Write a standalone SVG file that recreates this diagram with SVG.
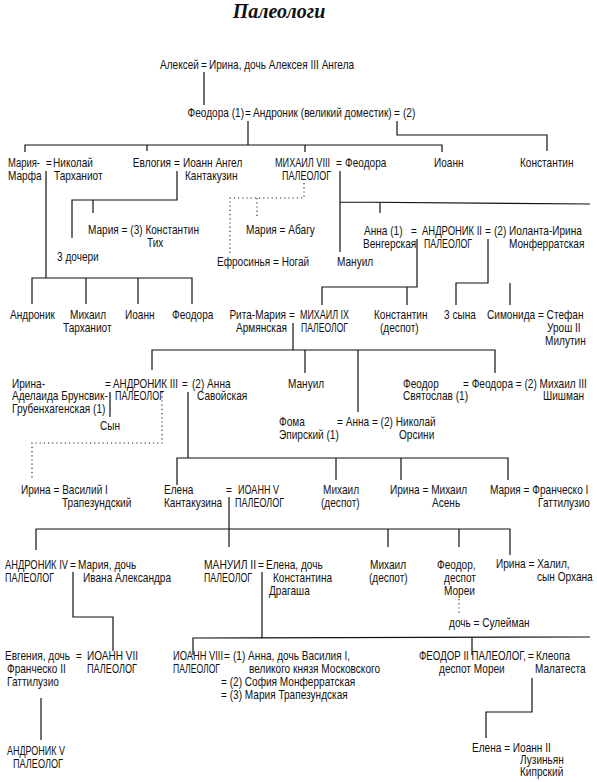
<svg xmlns="http://www.w3.org/2000/svg" width="597" height="782" viewBox="0 0 597 782">
<style>
text{font-family:"Liberation Sans",Arial,sans-serif;font-size:12px;fill:#111}
.e{text-anchor:middle}
.r{text-anchor:end}
.title{font-family:"Liberation Serif","Times New Roman",serif;font-size:20px;font-weight:bold;font-style:italic;text-anchor:middle}
.l{fill:none;stroke:#111;stroke-width:1.2}
.d{fill:none;stroke:#222;stroke-width:1.1;stroke-dasharray:1.2 3}
</style>
<rect width="597" height="782" fill="#fff"/>
<text class="title" x="279" y="18">Палеологи</text>
<g id="connectors">
<path class="l" d="M204,72V105"/>
<path class="l" d="M248,121V145"/>
<path class="l" d="M25,152V145H442V152M147,145V151M305,145V152"/>
<path class="l" d="M397,121V135H547V151"/>
<path class="l" d="M46,171V278M32,304V278H192V304M86,278V304M138,278V304"/>
<path class="l" d="M177,171V200H72V238M93,200V213"/>
<path class="l" d="M340,171V252M340,202L590,204M380,202.3V213"/>
<path class="d" d="M304,183V198H230V255M257,198V217"/>
<path class="l" d="M417,239V287H322V305M407,287V305M488,239V283H456V305M510,283V305"/>
<path class="l" d="M293,323V350M152,370V350H495V373M305,350V373M358,350V412"/>
<path class="l" d="M110,392V417M188,392V458M177,485V458H508V480M336,458V480M401,458V480"/>
<path class="d" d="M162,392V443H32V478"/>
<path class="l" d="M229,497V547M36,550V529H510V555M388,529V547M459,529V547"/>
<path class="l" d="M73,572V617H113V651"/>
<path class="l" d="M262,572V638M193,655V638L590,637M472,638V655"/>
<path class="d" d="M459,599V613"/>
<path class="l" d="M41,698V740"/>
<path class="l" d="M532,678V712H486V738"/>
</g>
<g id="n-aleksei"><text class="r" transform="translate(199 69) scale(.84 1)">Алексей</text><text class="e" transform="translate(204 69) scale(.84 1)">=</text><text transform="translate(209 69) scale(.84 1)">Ирина, дочь Алексея III Ангела</text></g>
<g id="n-andronik"><text class="r" transform="translate(244 117) scale(.84 1)">Феодора (1)</text><text class="e" transform="translate(248 117) scale(.84 1)">=</text><text transform="translate(253 117) scale(.84 1)">Андроник (великий доместик)</text><text class="e" transform="translate(397 117) scale(.84 1)">=</text><text transform="translate(403 117) scale(.84 1)">(2)</text></g>
<g id="n-maria-marfa"><text x="8" y="167" textLength="32" lengthAdjust="spacingAndGlyphs">Мария-</text><text transform="translate(8 180) scale(.84 1)">Марфа</text><text class="e" transform="translate(49 167) scale(.84 1)">=</text><text transform="translate(53 167) scale(.84 1)">Николай</text><text transform="translate(54 180) scale(.84 1)">Тарханиот</text></g>
<g id="n-evlogia"><text class="r" transform="translate(171 167) scale(.84 1)">Евлогия</text><text class="e" transform="translate(177 167) scale(.84 1)">=</text><text transform="translate(183 167) scale(.84 1)">Иоанн Ангел</text><text transform="translate(185 180) scale(.84 1)">Кантакузин</text></g>
<g id="n-mikhail8"><text x="275" y="167" textLength="55" lengthAdjust="spacingAndGlyphs">МИХАИЛ VIII</text><text x="282" y="180" textLength="49" lengthAdjust="spacingAndGlyphs">ПАЛЕОЛОГ</text><text class="e" transform="translate(339 167) scale(.84 1)">=</text><text transform="translate(345 167) scale(.84 1)">Феодора</text></g>
<g id="n-ioann1"><text transform="translate(434 167) scale(.84 1)">Иоанн</text></g>
<g id="n-konstantin1"><text transform="translate(520 167) scale(.84 1)">Константин</text></g>
<g id="n-maria-tikh"><text transform="translate(88 234) scale(.84 1)">Мария = (3) Константин</text><text transform="translate(147 247) scale(.84 1)">Тих</text></g>
<g id="n-3docheri"><text transform="translate(57 261) scale(.84 1)">3 дочери</text></g>
<g id="n-maria-abagu"><text transform="translate(246 234) scale(.84 1)">Мария = Абагу</text></g>
<g id="n-efrosinia"><text transform="translate(217 266) scale(.84 1)">Ефросинья = Ногай</text></g>
<g id="n-manuil1"><text transform="translate(337 266) scale(.84 1)">Мануил</text></g>
<g id="n-andronik2"><text transform="translate(364 235) scale(.84 1)">Анна (1)</text><text transform="translate(363 248) scale(.84 1)">Венгерская</text><text class="e" transform="translate(414 235) scale(.84 1)">=</text><text x="422" y="235" textLength="60" lengthAdjust="spacingAndGlyphs">АНДРОНИК II</text><text x="424" y="248" textLength="48" lengthAdjust="spacingAndGlyphs">ПАЛЕОЛОГ</text><text class="e" transform="translate(488 235) scale(.84 1)">=</text><text transform="translate(494 235) scale(.84 1)">(2) Иоланта-Ирина</text><text transform="translate(509 248) scale(.84 1)">Монферратская</text></g>
<g id="n-andronik-t"><text transform="translate(10 319) scale(.84 1)">Андроник</text></g>
<g id="n-mikhail-t"><text transform="translate(70 319) scale(.84 1)">Михаил</text><text transform="translate(63 332) scale(.84 1)">Тарханиот</text></g>
<g id="n-ioann-t"><text transform="translate(125 319) scale(.84 1)">Иоанн</text></g>
<g id="n-feodora-t"><text transform="translate(172 319) scale(.84 1)">Феодора</text></g>
<g id="n-mikhail9"><text class="r" transform="translate(286 319) scale(.84 1)">Рита-Мария</text><text class="r" transform="translate(287 332) scale(.84 1)">Армянская</text><text class="e" transform="translate(292 319) scale(.84 1)">=</text><text x="300" y="319" textLength="49" lengthAdjust="spacingAndGlyphs">МИХАИЛ IX</text><text x="301" y="332" textLength="47" lengthAdjust="spacingAndGlyphs">ПАЛЕОЛОГ</text></g>
<g id="n-konstantin-d"><text transform="translate(374 319) scale(.84 1)">Константин</text><text transform="translate(380 332) scale(.84 1)">(деспот)</text></g>
<g id="n-3syna"><text transform="translate(444 319) scale(.84 1)">3 сына</text></g>
<g id="n-simonida"><text transform="translate(487 319) scale(.84 1)">Симонида = Стефан</text><text transform="translate(547 332) scale(.84 1)">Урош II</text><text transform="translate(545 345) scale(.84 1)">Милутин</text></g>
<g id="n-andronik3"><text transform="translate(12 388) scale(.84 1)">Ирина-</text><text transform="translate(12 400) scale(.84 1)">Аделаида Брунсвик-</text><text transform="translate(12 413) scale(.84 1)">Грубенхагенская (1)</text><text class="e" transform="translate(108 388) scale(.84 1)">=</text><text x="113" y="388" textLength="65" lengthAdjust="spacingAndGlyphs">АНДРОНИК III</text><text x="115" y="400" textLength="49" lengthAdjust="spacingAndGlyphs">ПАЛЕОЛОГ</text><text class="e" transform="translate(185 388) scale(.84 1)">=</text><text transform="translate(192 388) scale(.84 1)">(2) Анна</text><text transform="translate(197 400) scale(.84 1)">Савойская</text></g>
<g id="n-syn"><text transform="translate(100 430) scale(.84 1)">Сын</text></g>
<g id="n-manuil2"><text transform="translate(288 388) scale(.84 1)">Мануил</text></g>
<g id="n-feodora2"><text transform="translate(403 388) scale(.84 1)">Феодор</text><text transform="translate(403 400) scale(.84 1)">Святослав (1)</text><text transform="translate(463 388) scale(.84 1)">= Феодора = (2) Михаил III</text><text transform="translate(543 400) scale(.84 1)">Шишман</text></g>
<g id="n-anna"><text transform="translate(279 426) scale(.84 1)">Фома</text><text transform="translate(279 439) scale(.84 1)">Эпирский (1)</text><text transform="translate(337 426) scale(.84 1)">= Анна = (2) Николай</text><text transform="translate(399 439) scale(.84 1)">Орсини</text></g>
<g id="n-irina-v"><text transform="translate(21 494) scale(.84 1)">Ирина = Василий I</text><text transform="translate(62 507) scale(.84 1)">Трапезундский</text></g>
<g id="n-ioann5"><text transform="translate(164 494) scale(.84 1)">Елена</text><text transform="translate(164 507) scale(.84 1)">Кантакузина</text><text class="e" transform="translate(229 494) scale(.84 1)">=</text><text x="238" y="494" textLength="41" lengthAdjust="spacingAndGlyphs">ИОАНН V</text><text x="235" y="507" textLength="49" lengthAdjust="spacingAndGlyphs">ПАЛЕОЛОГ</text></g>
<g id="n-mikhail-d1"><text transform="translate(323 494) scale(.84 1)">Михаил</text><text transform="translate(321 507) scale(.84 1)">(деспот)</text></g>
<g id="n-irina-asen"><text transform="translate(390 494) scale(.84 1)">Ирина = Михаил</text><text transform="translate(432 507) scale(.84 1)">Асень</text></g>
<g id="n-maria-f"><text transform="translate(490 494) scale(.84 1)">Мария = Франческо I</text><text transform="translate(538 507) scale(.84 1)">Гаттилузио</text></g>
<g id="n-andronik4"><text x="5" y="569" textLength="63" lengthAdjust="spacingAndGlyphs">АНДРОНИК IV</text><text x="5" y="582" textLength="49" lengthAdjust="spacingAndGlyphs">ПАЛЕОЛОГ</text><text class="e" transform="translate(73 569) scale(.84 1)">=</text><text transform="translate(78 569) scale(.84 1)">Мария, дочь</text><text transform="translate(83 582) scale(.84 1)">Ивана Александра</text></g>
<g id="n-manuil-ii"><text x="204" y="569" textLength="52" lengthAdjust="spacingAndGlyphs">МАНУИЛ II</text><text x="204" y="582" textLength="48" lengthAdjust="spacingAndGlyphs">ПАЛЕОЛОГ</text><text class="e" transform="translate(261 569) scale(.84 1)">=</text><text transform="translate(266 569) scale(.84 1)">Елена, дочь</text><text transform="translate(273 582) scale(.84 1)">Константина</text><text transform="translate(269 595) scale(.84 1)">Драгаша</text></g>
<g id="n-mikhail-d2"><text transform="translate(370 569) scale(.84 1)">Михаил</text><text transform="translate(369 582) scale(.84 1)">(деспот)</text></g>
<g id="n-feodor-d"><text transform="translate(437 569) scale(.84 1)">Феодор,</text><text transform="translate(444 582) scale(.84 1)">деспот</text><text transform="translate(444 595) scale(.84 1)">Мореи</text></g>
<g id="n-irina-kh"><text transform="translate(496 568) scale(.84 1)">Ирина = Халил,</text><text transform="translate(537 581) scale(.84 1)">сын Орхана</text></g>
<g id="n-doch"><text transform="translate(449 627) scale(.84 1)">дочь = Сулейман</text></g>
<g id="n-ioann7"><text x="5" y="660" textLength="65" lengthAdjust="spacingAndGlyphs">Евгения, дочь</text><text transform="translate(7 673) scale(.84 1)">Франческо II</text><text transform="translate(7 686) scale(.84 1)">Гаттилузио</text><text class="e" transform="translate(79 660) scale(.84 1)">=</text><text x="87" y="660" textLength="51" lengthAdjust="spacingAndGlyphs">ИОАНН VII</text><text x="87" y="673" textLength="50" lengthAdjust="spacingAndGlyphs">ПАЛЕОЛОГ</text></g>
<g id="n-ioann8"><text x="173" y="660" textLength="50" lengthAdjust="spacingAndGlyphs">ИОАНН VIII</text><text x="173" y="673" textLength="47" lengthAdjust="spacingAndGlyphs">ПАЛЕОЛОГ</text><text class="e" transform="translate(227 660) scale(.84 1)">=</text><text transform="translate(233 660) scale(.84 1)">(1) Анна, дочь Василия I,</text><text transform="translate(249 673) scale(.84 1)">великого князя Московского</text><text transform="translate(221 686) scale(.84 1)">= (2) София Монферратская</text><text transform="translate(221 699) scale(.84 1)">= (3) Мария Трапезундская</text></g>
<g id="n-feodor2"><text x="419" y="660" textLength="107" lengthAdjust="spacingAndGlyphs">ФЕОДОР II ПАЛЕОЛОГ,</text><text transform="translate(439 673) scale(.84 1)">деспот Мореи</text><text class="e" transform="translate(531 660) scale(.84 1)">=</text><text transform="translate(536 660) scale(.84 1)">Клеопа</text><text transform="translate(535 673) scale(.84 1)">Малатеста</text></g>
<g id="n-andronik5"><text x="7" y="755" textLength="58" lengthAdjust="spacingAndGlyphs">АНДРОНИК V</text><text x="13" y="768" textLength="50" lengthAdjust="spacingAndGlyphs">ПАЛЕОЛОГ</text></g>
<g id="n-elena-l"><text transform="translate(472 752) scale(.84 1)">Елена = Иоанн II</text><text transform="translate(520 764) scale(.84 1)">Лузиньян</text><text transform="translate(520 776) scale(.84 1)">Кипрский</text></g>
</svg>
